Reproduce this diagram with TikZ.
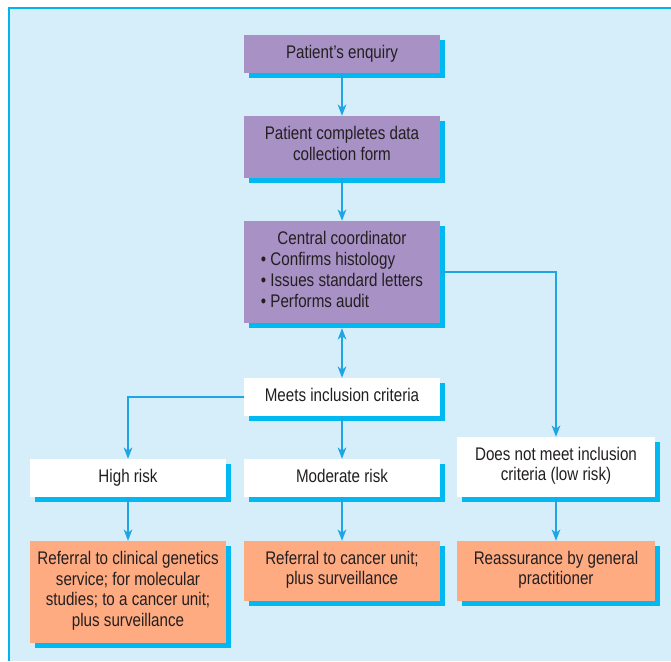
\documentclass[tikz,border=0pt]{standalone}
\usepackage{fontspec}
\setmainfont{Liberation Sans}[FakeStretch=0.83]
\usepackage{tikz}
\usetikzlibrary{arrows.meta,shadows}
\definecolor{panel}{RGB}{214,237,250}
\definecolor{rim}{RGB}{0,180,238}
\definecolor{shade}{RGB}{0,185,242}
\definecolor{flowblue}{RGB}{30,166,228}
\definecolor{lilac}{RGB}{168,145,197}
\definecolor{peach}{RGB}{255,171,130}
\definecolor{ink}{RGB}{35,31,32}

\begin{document}
\begin{tikzpicture}[x=0.03cm, y=-0.03cm, >={Stealth[length=3.4mm,width=2.6mm,inset=1mm]},
  every node/.style={font=\fontsize{15.6pt}{17.9pt}\selectfont, text=ink},
  box/.style={inner sep=0pt, minimum width=5.88cm, align=center, execute at begin node=\strut,
    drop shadow={fill=shade, opacity=1, shadow xshift=0.16cm, shadow yshift=-0.16cm}},
  stage/.style={box, fill=lilac},
  choice/.style={box, fill=white},
  outcome/.style={box, fill=peach},
  flow/.style={draw=flowblue, line width=1pt, ->}]
\useasboundingbox (0,0) rectangle (671,661);
% background panel
\fill[panel] (9,8) rectangle (671,661);
\draw[rim, line width=0.06cm] (9,661) -- (9,8) -- (671,8);
% main column
\node[stage, minimum height=1.14cm] (enquiry) at (342,54) {Patient's enquiry};
\node[stage, minimum height=1.86cm] (form) at (342,147) {Patient completes data\\collection form};
\node[stage, minimum height=3.06cm] (coord) at (342,272)
  {\begin{tabular}{@{}l@{}}\multicolumn{1}{c}{Central coordinator}\\
   \textbullet\ Confirms histology\\
   \textbullet\ Issues standard letters\\
   \textbullet\ Performs audit\end{tabular}};
\node[choice, minimum height=1.14cm] (meets) at (342,397) {Meets inclusion criteria};
% risk groups
\node[choice, minimum height=1.14cm] (high) at (128,478) {High risk};
\node[choice, minimum height=1.14cm] (moderate) at (342,478) {Moderate risk};
\node[choice, minimum height=1.8cm, minimum width=5.94cm] (lowrisk) at (556,467) {Does not meet inclusion\\criteria (low risk)};
% outcomes
\node[outcome, minimum height=3.06cm] (refhigh) at (128,592) {Referral to clinical genetics\\service; for molecular\\studies; to a cancer unit;\\plus surveillance};
\node[outcome, minimum height=1.8cm] (refmod) at (342,571) {Referral to cancer unit;\\plus surveillance};
\node[outcome, minimum height=1.8cm, minimum width=5.94cm] (reassure) at (556,571) {Reassurance by general\\practitioner};
% connectors
\draw[flow] (enquiry) -- (form);
\draw[flow] (form) -- (coord);
\draw[flow, <->] ([yshift=-0.15cm]coord.south) -- (meets);
\draw[flow] (meets.west) -| (high.north);
\draw[flow] (meets) -- (moderate);
\draw[flow] (coord.east) -| (lowrisk.north);
\draw[flow] (high) -- (refhigh);
\draw[flow] (moderate) -- (refmod);
\draw[flow] (lowrisk) -- (reassure);
\end{tikzpicture}
\end{document}
